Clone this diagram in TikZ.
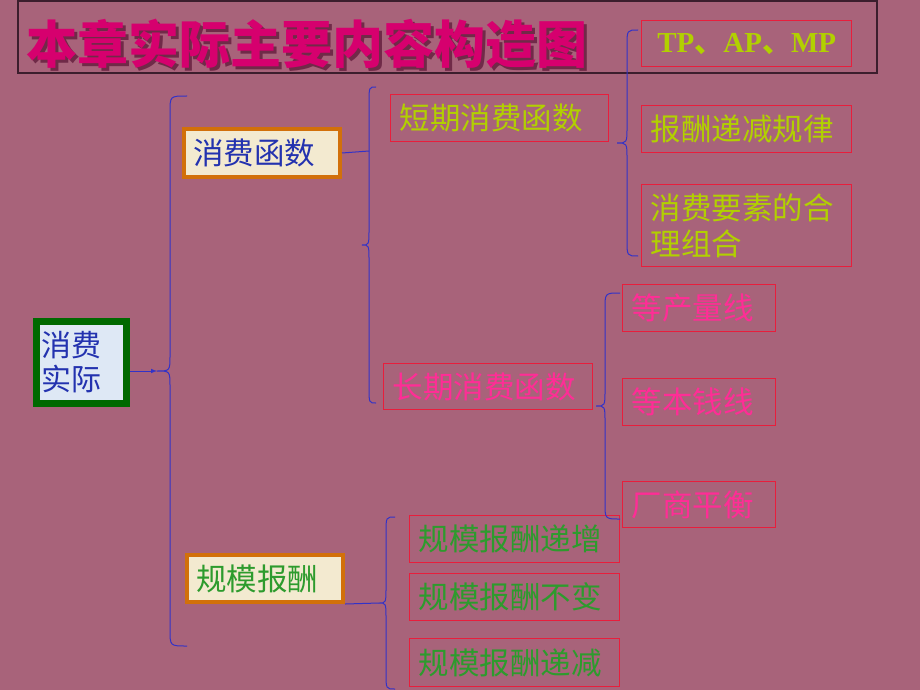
\documentclass[tikz,border=0pt]{standalone}
\usepackage{fontspec}
\newfontfamily\cjk{Noto Sans CJK SC}
\newfontfamily\latinserif{Liberation Serif}
\definecolor{bgmauve}{RGB}{168,99,122}
\definecolor{titlepink}{RGB}{214,0,110}
\definecolor{titleshade}{RGB}{112,42,72}
\definecolor{framedark}{RGB}{60,30,45}
\definecolor{braceblue}{RGB}{50,50,200}
\definecolor{boxred}{RGB}{232,30,60}
\definecolor{limegreen}{RGB}{178,208,0}
\definecolor{hotpink}{RGB}{255,45,150}
\definecolor{leafgreen}{RGB}{45,155,45}
\definecolor{inkblue}{RGB}{35,50,175}
\definecolor{paper}{RGB}{243,234,208}
\definecolor{rootgreen}{RGB}{0,105,0}
\definecolor{rootfill}{RGB}{222,232,245}
\definecolor{rimorange}{RGB}{210,112,10}
\tikzset{
  box/.style={rectangle, anchor=north west, inner xsep=9pt, inner ysep=0pt,
    align=left, font=\cjk\fontsize{30.5}{36}\selectfont},
  redbox/.style={box, draw=boxred, line width=1.4pt},
  paperbox/.style={box, draw=rimorange, fill=paper, line width=4pt},
  brace/.style={draw=braceblue, line width=1pt},
}
% left curly brace: end x, spine x, tip x, top y, bottom y
\newcommand\curlybrace[5]{%
  \draw[brace] (#1,#4) .. controls (#2,#4) .. (#2,#4+16)
    -- (#2,{(#4+#5)/2-16}) .. controls (#2,{(#4+#5)/2}) .. (#3,{(#4+#5)/2})
    .. controls (#2,{(#4+#5)/2}) .. (#2,{(#4+#5)/2+16})
    -- (#2,#5-16) .. controls (#2,#5) .. (#1,#5);}

\begin{document}
\begin{tikzpicture}[x=1pt, y=-1pt]
\useasboundingbox (0,0) rectangle (920,690);
\fill[bgmauve] (0,0) rectangle (920,690);
% Title
    \draw[framedark, line width=1.2pt] (18,1) rectangle (877,73);
    \node[anchor=west, titleshade, font=\cjk\bfseries\fontsize{51}{51}\selectfont, inner sep=0pt]
      (titleShadow) at (29,47) {本章实际主要内容构造图};
    \node[anchor=west, titlepink, font=\cjk\bfseries\fontsize{51}{51}\selectfont, inner sep=0pt]
      (title) at (26,44) {本章实际主要内容构造图};
% Root and first level
    \node[box, draw=rootgreen, fill=rootfill, line width=7pt, text=inkblue,
      text width=80, minimum height=82, inner xsep=5pt, font=\cjk\fontsize{30}{34}\selectfont]
      (root) at (32.5,317.5) {消费\\实际};
    \node[paperbox, text=inkblue, text width=138, minimum height=48] (xiaofei) at (182,127) {消费函数};
    \node[paperbox, text=leafgreen, text width=138, minimum height=47] (guimo) at (185,553) {规模报酬};
% Second level
    \node[redbox, text=limegreen, text width=200, minimum height=47] (short) at (390,94) {短期消费函数};
    \node[redbox, text=hotpink, text width=191, minimum height=46] (long) at (383,363) {长期消费函数};
    \node[redbox, text=leafgreen, text width=192, minimum height=47] (incr) at (409,515) {规模报酬递增};
    \node[redbox, text=leafgreen, text width=192, minimum height=47] (const) at (409,573) {规模报酬不变};
    \node[redbox, text=leafgreen, text width=192, minimum height=48] (decr) at (409,638) {规模报酬递减};
% Third level
    \node[redbox, text=limegreen, text width=202, minimum height=46, align=center, inner xsep=4pt,
      font=\latinserif\bfseries\fontsize{29}{32}\selectfont] (tpapmp) at (641,20)
      {TP{\cjk 、}AP{\cjk 、}MP};
    \node[redbox, text=limegreen, text width=192, minimum height=47] (law) at (641,105) {报酬递减规律};
    \node[redbox, text=limegreen, text width=192, minimum height=82,
      font=\cjk\fontsize{30.5}{36}\selectfont] (combo) at (641,184) {消费要素的合\\理组合};
    \node[redbox, text=hotpink, text width=135, minimum height=47] (isoq) at (622,284) {等产量线};
    \node[redbox, text=hotpink, text width=135, minimum height=47] (isoc) at (622,378) {等本钱线};
    \node[redbox, text=hotpink, text width=135, minimum height=46] (equi) at (622,481) {厂商平衡};
% Braces
    \curlybrace{187}{170}{157}{96}{646}
    \curlybrace{376}{369}{362}{87}{403}
    \curlybrace{638}{627}{617}{30}{256}
    \curlybrace{620}{605}{596}{293}{519}
    \curlybrace{395}{386}{379}{517}{689}
% Connectors
    \coordinate (rootTip) at (157,371);
    \coordinate (midSpine) at (369,151);
    \coordinate (guimoTip) at (379,603);
    \draw[braceblue, line width=1pt, -latex] (rootTip -| root.east) -- (rootTip);
    \draw[braceblue, line width=1pt] (xiaofei.east) -- (midSpine);
    \draw[braceblue, line width=1pt] (guimo.south east) -- (guimoTip);
\end{tikzpicture}
\end{document}
